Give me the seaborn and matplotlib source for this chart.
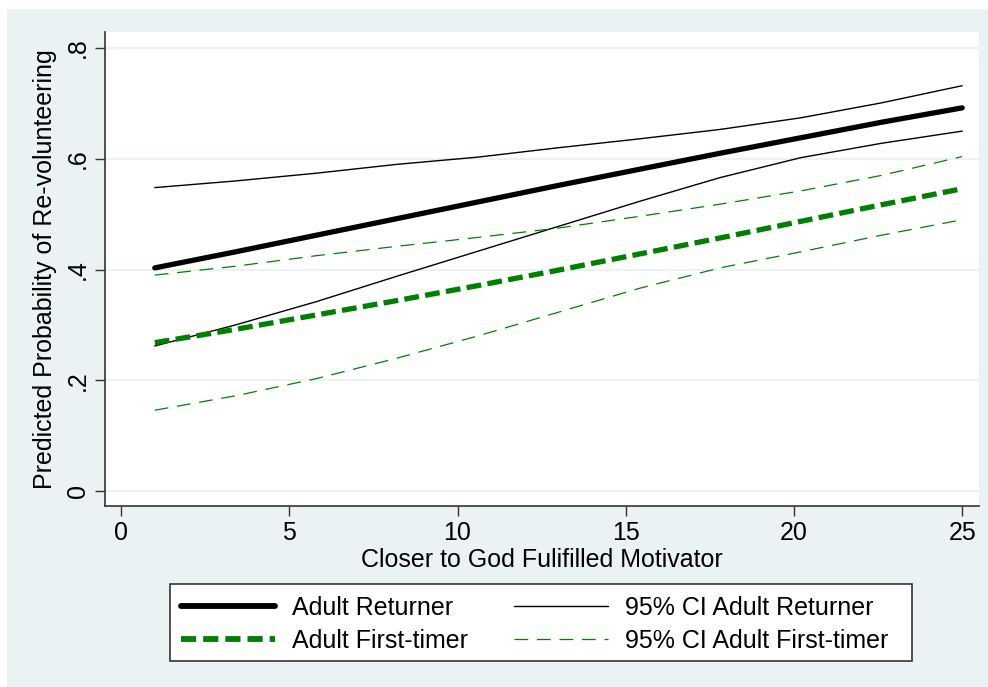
import pandas as pd
import numpy as np
import matplotlib
matplotlib.use("Agg")
import matplotlib.pyplot as plt
from matplotlib.patches import Rectangle
from matplotlib.lines import Line2D
import seaborn as sns

# motivator values where predictions were computed
motivator = [1, 3.4, 5.8, 8.2, 10.6, 13, 15.4, 17.8, 20.2, 22.6, 25]

returner = [0.403, 0.432, 0.462, 0.492, 0.522, 0.552, 0.581, 0.610, 0.638, 0.666, 0.692]
returner_hi = [0.548, 0.560, 0.574, 0.590, 0.603, 0.620, 0.636, 0.653, 0.674, 0.701, 0.732]
returner_lo = [0.262, 0.300, 0.342, 0.388, 0.433, 0.478, 0.523, 0.566, 0.602, 0.628, 0.650]

first = [0.268, 0.292, 0.318, 0.344, 0.371, 0.399, 0.428, 0.457, 0.487, 0.517, 0.546]
first_hi = [0.390, 0.406, 0.425, 0.442, 0.458, 0.475, 0.496, 0.518, 0.542, 0.570, 0.604]
first_lo = [0.146, 0.172, 0.203, 0.240, 0.280, 0.323, 0.366, 0.403, 0.432, 0.462, 0.490]

y_ticks = [0, 0.2, 0.4, 0.6, 0.8]
y_ticklabels = ["0", ".2", ".4", ".6", ".8"]
x_ticks = [0, 5, 10, 15, 20, 25]

labels = ["Adult Returner", "Adult First-timer",
          "95% CI Adult Returner", "95% CI Adult First-timer"]

df = pd.DataFrame({
    "x": motivator,
    "ret": returner, "ret_hi": returner_hi, "ret_lo": returner_lo,
    "ft": first, "ft_hi": first_hi, "ft_lo": first_lo,
})

sns.set_style("white")
plt.rcParams["font.family"] = ["Liberation Sans", "DejaVu Sans"]
plt.rcParams["text.color"] = "black"
plt.rcParams["axes.labelcolor"] = "black"
plt.rcParams["xtick.color"] = "black"
plt.rcParams["ytick.color"] = "black"

bg = "#EAF2F3"
green = "#008000"

fig = plt.figure(figsize=(9.88, 6.87), dpi=100, facecolor="white")
fig.patches.append(Rectangle((7 / 988, 0), 1, 1 - 9 / 687,
                             transform=fig.transFigure, facecolor=bg,
                             edgecolor="none", zorder=-10))

ax = fig.add_axes([105 / 988, 1 - 506 / 687, (979 - 105) / 988, (506 - 32) / 687])
ax.set_facecolor("white")

thin = dict(estimator=None, errorbar=None, sort=True, ax=ax)
sns.lineplot(data=df, x="x", y="ret_hi", color="black", lw=1.0, **thin)
sns.lineplot(data=df, x="x", y="ret_lo", color="black", lw=1.0, **thin)
sns.lineplot(data=df, x="x", y="ft_hi", color=green, lw=0.9,
             linestyle=(0, (11, 7)), **thin)
sns.lineplot(data=df, x="x", y="ft_lo", color=green, lw=0.9,
             linestyle=(0, (11, 7)), **thin)
sns.lineplot(data=df, x="x", y="ret", color="black", lw=3.8,
             solid_capstyle="round", **thin)
sns.lineplot(data=df, x="x", y="ft", color=green, lw=3.8,
             linestyle=(0, (2.8, 1.2)), **thin)

ax.set_xlim(-0.48, 25.5)
ax.set_ylim(-0.027, 0.829)
ax.set_yticks(y_ticks)
ax.set_yticklabels(y_ticklabels, rotation=90, va="center")
ax.set_xticks(x_ticks)
ax.grid(axis="y", color=bg, lw=1.5)
ax.set_axisbelow(True)

for side in ["top", "right"]:
    ax.spines[side].set_visible(False)
for side in ["left", "bottom"]:
    ax.spines[side].set_color("#333333")
    ax.spines[side].set_linewidth(1.2)

ax.tick_params(axis="both", direction="out", length=7, width=1.0,
               color="#333333", labelsize=18, pad=4)
ax.tick_params(axis="both", left=True, bottom=True)
ax.set_xlabel("Closer to God Fulifilled Motivator", fontsize=18, labelpad=2)
ax.set_ylabel("Predicted Probability of Re-volunteering", fontsize=18, labelpad=6)

# legend box drawn separately, entries placed inside it
fig.patches.append(Rectangle((170 / 988, 1 - 661 / 687), (912 - 170) / 988,
                             (661 - 584) / 687, transform=fig.transFigure,
                             facecolor="white", edgecolor="#333333", lw=1.2,
                             zorder=5))

handles = [
    Line2D([], [], color="black", lw=4.2),
    Line2D([], [], color=green, lw=4.2, linestyle=(0, (2.6, 1.2))),
    Line2D([], [], color="black", lw=1.0),
    Line2D([], [], color=green, lw=0.9, linestyle=(0, (11, 7))),
]
leg = fig.legend(handles, labels, ncol=2, loc="upper left",
                 bbox_to_anchor=(181 / 988, 1 - 596 / 687),
                 fontsize=18, frameon=False,
                 handlelength=3.75, handletextpad=0.68, columnspacing=1.85,
                 labelspacing=0.36, borderpad=0, borderaxespad=0)
leg.set_zorder(6)

fig.savefig("out.png", dpi=100, facecolor=fig.get_facecolor())
